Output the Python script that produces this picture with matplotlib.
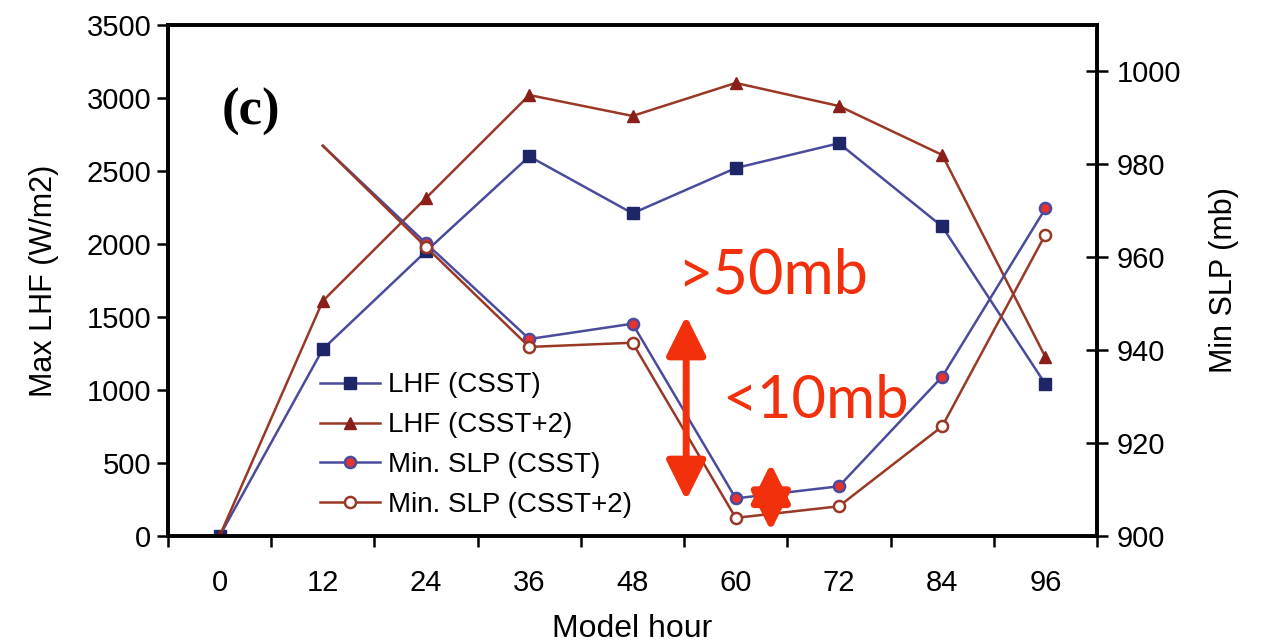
import matplotlib
matplotlib.use("Agg")
import matplotlib.pyplot as plt
from matplotlib.ticker import FixedLocator, NullFormatter

# Model output every 12 h
hours = [0, 12, 24, 36, 48, 60, 72, 84, 96]

# Maximum latent heat flux (W/m2)
lhf_csst = [0, 1280, 1950, 2600, 2210, 2520, 2690, 2120, 1040]
lhf_csst2 = [0, 1610, 2315, 3020, 2877, 3103, 2945, 2610, 1226]

# Minimum sea-level pressure (mb), available from hour 12 on
slp_hours = [12, 24, 36, 48, 60, 72, 84, 96]
slp_csst = [984, 963.0, 942.4, 945.7, 908.1, 910.7, 934.3, 970.5]
slp_csst2 = [984, 962.2, 940.7, 941.6, 903.9, 906.4, 923.6, 964.9]

# Intensity-difference callouts (SLP ranges in mb)
big_arrow = (4.52, 947.4, 907.7)
small_arrow = (5.34, 915.6, 901.1)

BLUE_LINE = "#4b4b9e"
BLUE_MARK = "#1f2668"
BROWN_LINE = "#9a3826"
BROWN_MARK = "#8a1f1a"
RED_FILL = "#e8322e"
CALLOUT = "#f2300c"

plt.rcParams["font.family"] = ["Liberation Sans", "DejaVu Sans"]

fig = plt.figure(figsize=(12.64, 6.44), dpi=100)
ax = fig.add_axes([0.1329, 0.1677, 0.7350, 0.7935])
ax2 = ax.twinx()

pos = list(range(len(hours)))
slp_pos = [hours.index(h) for h in slp_hours]

l1, = ax.plot(pos, lhf_csst, color=BLUE_LINE, lw=1.8, marker="s", ms=9,
              mfc=BLUE_MARK, mec=BLUE_MARK, label="LHF (CSST)", zorder=3)
l2, = ax.plot(pos, lhf_csst2, color=BROWN_LINE, lw=1.8, marker="^", ms=9,
              mfc=BROWN_MARK, mec=BROWN_MARK, label="LHF (CSST+2)", zorder=3)
l3, = ax2.plot(slp_pos, slp_csst, color=BLUE_LINE, lw=1.8, marker="o", ms=8,
               mfc=RED_FILL, mec=BLUE_LINE, mew=1.8,
               markevery=list(range(1, len(slp_pos))), label="Min. SLP (CSST)")
l4, = ax2.plot(slp_pos, slp_csst2, color=BROWN_LINE, lw=1.8, marker="o", ms=8,
               mfc="white", mec=BROWN_LINE, mew=1.8,
               markevery=list(range(1, len(slp_pos))), label="Min. SLP (CSST+2)")

# Axes ranges
ax.set_xlim(-0.5, len(hours) - 0.5)
ax.set_ylim(0, 3500)
ax2.set_ylim(900, 1010)

# Category-style x axis: ticks between categories, labels at categories
ax.xaxis.set_major_locator(FixedLocator([p - 0.5 for p in range(len(hours) + 1)]))
ax.xaxis.set_major_formatter(NullFormatter())
ax.xaxis.set_minor_locator(FixedLocator(pos))
ax.set_xticklabels([str(h) for h in hours], minor=True)
ax.tick_params(axis="x", which="major", direction="out", length=8, width=1.8)
ax.tick_params(axis="x", which="minor", length=0, pad=24, labelsize=21)

ax.set_yticks(range(0, 3501, 500))
ax.tick_params(axis="y", direction="out", length=8, width=1.8, labelsize=21, pad=4)
ax2.set_yticks(range(900, 1001, 20))
ax2.tick_params(axis="y", direction="inout", length=16, width=1.8, labelsize=21, pad=6)

for a in (ax, ax2):
    for s in a.spines.values():
        s.set_linewidth(2.6)

ax.set_xlabel("Model hour", fontsize=23, labelpad=12)
ax.set_ylabel("Max LHF (W/m2)", fontsize=22, labelpad=20)
ax2.set_ylabel("Min SLP (mb)", fontsize=22, labelpad=20)

# Panel tag
ax.text(0.058, 0.83, "(c)", transform=ax.transAxes, fontsize=38,
        fontweight="bold", family=["Liberation Serif", "DejaVu Serif"],
        va="center", ha="left")

leg = ax.legend(handles=[l1, l2, l3, l4], loc="upper left",
                bbox_to_anchor=(0.152, 0.342), frameon=False, fontsize=20,
                handlelength=2.15, handletextpad=0.3, labelspacing=0.5,
                borderaxespad=0)

# Red callouts
for x, y0, y1 in (big_arrow, small_arrow):
    ax2.annotate("", xy=(x, y1), xytext=(x, y0),
                 arrowprops=dict(arrowstyle="<|-|>,head_length=1.2,head_width=0.6",
                                 color=CALLOUT, lw=5, mutation_scale=20,
                                 shrinkA=0, shrinkB=0))
ax2.text(4.43, 956.0, ">50mb", color=CALLOUT, fontsize=44,
         family=["Lato", "DejaVu Sans"], va="center", ha="left")
ax2.text(4.87, 929.0, "<10mb", color=CALLOUT, fontsize=43,
         family=["Lato", "DejaVu Sans"], va="center", ha="left")

fig.savefig("out.png", dpi=100)
